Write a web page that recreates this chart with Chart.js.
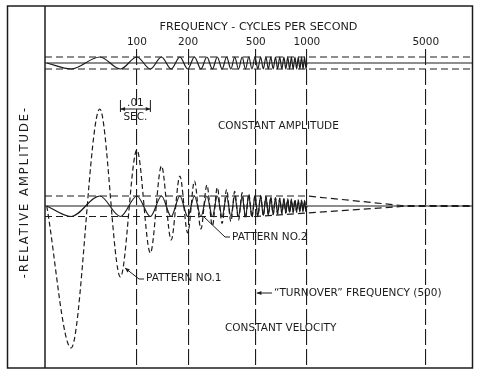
<!DOCTYPE html>
<html>
<head>
<meta charset="utf-8">
<script src="https://cdn.jsdelivr.net/npm/chart.js@4.4.1/dist/chart.umd.min.js"></script>
<style>
html, body { margin: 0; padding: 0; background: #fff; }
</style>
</head>
<body>
<canvas id="graficaPatrones" width="478" height="375"></canvas>
<script>
// frecuencias marcadas arriba
const tickFreqs = [100, 200, 500, 1000, 5000];

// frecuencias de los picos / valles del barrido (inicio, extremos, final)
const sweepFreqs = [29.5,
    41, 60.5, 80, 100, 120, 139.5, 159, 179, 199, 218,
    238, 258, 278, 297, 317, 337, 357, 376, 396, 416,
    435, 455, 475, 495, 514, 534, 554, 574, 593, 613,
    633, 653, 672, 692, 712, 732, 751, 771, 791, 810,
    830, 850, 870, 889, 909, 929, 949, 968, 988,
    998];

// amplitud de la franja superior (amplitud constante)
const topStripAmp = [0,
    -6, 6, -6, 6, -6, 6, -6, 6, -6, 6,
    -6, 6, -6, 6, -6, 6, -6, 6, -6, 6,
    -6, 6, -6, 6, -6, 6, -6, 6, -6, 6,
    -6, 6, -6, 6, -6, 6, -6, 6, -6, 6,
    -6, 6, -6, 6, -6, 6, -6, 6, -6,
    0];

// pattern no.1 (velocidad constante, linea a trazos)
const pattern1Amp = [0,
    -142, 97, -71, 56, -47, 40, -34, 30, -27, 25,
    -23, 21, -20, 18.5, -17.5, 16.5, -15.5, 14.6, -14, 13.3,
    -12.6, 12.1, -11.6, 11.1, -10.7, 10.3, -9.9, 9.6, -9.3, 9.0,
    -8.7, 8.4, -8.2, 7.9, -7.7, 7.5, -7.3, 7.1, -6.9, 6.8,
    -6.6, 6.4, -6.3, 6.2, -6.0, 5.9, -5.8, 5.7, -5.6,
    0];

// pattern no.2 (linea continua)
const pattern2Amp = [0,
    -10.5, 10, -10.5, 10, -10.5, 10, -10.5, 10, -10.5, 10,
    -10.5, 10, -10.5, 10, -10.5, 10, -10.5, 10, -10.5, 10,
    -10.5, 10, -10.5, 10, -10.2, 9.8, -9.4, 9.0, -8.7, 8.4,
    -8.1, 7.8, -7.5, 7.3, -7.0, 6.8, -6.6, 6.4, -6.2, 6.0,
    -5.9, 5.7, -5.6, 5.5, -5.4, 5.3, -5.2, 5.1, -5.0,
    0];

// lineas base y envolventes
const topBase = 143;
const midBase = 0;
const fullFreqs = [28.8, 9350];
const topEnvUpper = [6, 6];
const topEnvLower = [-6, -6];
const envUpperFreqs = [28.8, 1000, 3600, 9350];
const envUpper = [10, 10, 0.5, 0.5];
const envLowerFreqs = [28.8, 500, 1000, 3600, 9350];
const envLower = [-10.5, -10.5, -7, -0.5, -0.5];

const tinta = '#1c1c1c';
const fuente = '"DejaVu Sans", sans-serif';

function serie(freqs, vals, base) {
    return freqs.map((f, i) => ({ x: f, y: base + vals[i] }));
}

function linea(data, dash, width) {
    return {
        data: data,
        borderColor: tinta,
        borderWidth: width || 1.2,
        borderDash: dash || [],
        pointRadius: 0,
        tension: 0,
        fill: false
    };
}

function onda(data, dash) {
    const ds = linea(data, dash, 1.2);
    ds.cubicInterpolationMode = 'monotone';
    return ds;
}

function flecha(ctx, x1, y1, x2, y2) {
    const a = Math.atan2(y2 - y1, x2 - x1);
    ctx.beginPath();
    ctx.moveTo(x1, y1);
    ctx.lineTo(x2, y2);
    ctx.stroke();
    ctx.beginPath();
    ctx.moveTo(x2, y2);
    ctx.lineTo(x2 - 5 * Math.cos(a - 0.4), y2 - 5 * Math.sin(a - 0.4));
    ctx.lineTo(x2 - 5 * Math.cos(a + 0.4), y2 - 5 * Math.sin(a + 0.4));
    ctx.closePath();
    ctx.fill();
}

const marco = {
    id: 'marco',
    afterDraw(chart) {
        const ctx = chart.ctx;
        const area = chart.chartArea;
        ctx.save();
        ctx.strokeStyle = tinta;
        ctx.lineWidth = 1.5;
        ctx.strokeRect(7.5, 6, 465, area.bottom - 6);
        ctx.beginPath();
        ctx.moveTo(area.left, 6);
        ctx.lineTo(area.left, area.bottom);
        ctx.stroke();
        ctx.restore();
    }
};

const rotulos = {
    id: 'rotulos',
    afterDraw(chart) {
        const ctx = chart.ctx;
        const xs = chart.scales.x;
        ctx.save();
        ctx.fillStyle = tinta;
        ctx.strokeStyle = tinta;
        ctx.lineWidth = 1;
        ctx.font = '10.5px ' + fuente;
        ctx.textBaseline = 'middle';
        ctx.textAlign = 'left';

        ctx.fillText('CONSTANT AMPLITUDE', 218, 126);
        ctx.fillText('PATTERN NO.2', 232, 237);
        ctx.fillText('PATTERN NO.1', 146, 278);
        ctx.fillText('\u201CTURNOVER\u201D FREQUENCY (500)', 274, 293);
        ctx.fillText('CONSTANT VELOCITY', 225, 328);

        // lineas guia
        ctx.beginPath();
        ctx.moveTo(203, 216);
        ctx.lineTo(225, 237);
        ctx.lineTo(230, 237);
        ctx.stroke();
        ctx.beginPath();
        ctx.moveTo(144, 279);
        ctx.lineTo(139, 279);
        ctx.stroke();
        flecha(ctx, 139, 279, 125, 268);
        const x500 = xs.getPixelForValue(500);
        flecha(ctx, 272, 293, x500 + 1, 293);

        // cota de .01 seg
        const xa = xs.getPixelForValue(80);
        const xb = xs.getPixelForValue(120);
        ctx.beginPath();
        ctx.moveTo(xa, 100); ctx.lineTo(xa, 112);
        ctx.moveTo(xb, 100); ctx.lineTo(xb, 112);
        ctx.stroke();
        flecha(ctx, (xa + xb) / 2, 109, xa, 109);
        flecha(ctx, (xa + xb) / 2, 109, xb, 109);
        ctx.textAlign = 'center';
        ctx.fillText('.01', (xa + xb) / 2, 103);
        ctx.fillText('SEC.', (xa + xb) / 2, 117);

        // titulo vertical
        ctx.translate(25, 192);
        ctx.rotate(-Math.PI / 2);
        ctx.font = '11.5px ' + fuente;
        ctx.letterSpacing = '2px';
        ctx.fillText('-RELATIVE AMPLITUDE-', 0, 0);
        ctx.restore();
    }
};

const ctx = document.getElementById('graficaPatrones').getContext('2d');

new Chart(ctx, {
    type: 'line',
    data: {
        datasets: [
            onda(serie(sweepFreqs, pattern1Amp, midBase), [5, 3]),
            onda(serie(sweepFreqs, pattern2Amp, midBase)),
            onda(serie(sweepFreqs, topStripAmp, topBase)),
            linea(serie(fullFreqs, [0, 0], topBase)),
            linea(serie(fullFreqs, topEnvUpper, topBase), [7, 4]),
            linea(serie(fullFreqs, topEnvLower, topBase), [7, 4]),
            linea(serie(fullFreqs, [0, 0], midBase)),
            linea(serie(envUpperFreqs, envUpper, midBase), [7, 4]),
            linea(serie(envLowerFreqs, envLower, midBase), [7, 4])
        ]
    },
    options: {
        responsive: false,
        animation: false,
        layout: { padding: { left: 45, right: 6, top: 6, bottom: 7 } },
        plugins: {
            legend: { display: false },
            tooltip: { enabled: false }
        },
        scales: {
            x: {
                type: 'logarithmic',
                position: 'top',
                min: 28.8,
                max: 9350,
                afterBuildTicks: function(scale) {
                    scale.ticks = tickFreqs.map(v => ({ value: v }));
                },
                afterFit: function(scale) {
                    scale.height = 43;
                },
                ticks: {
                    autoSkip: false,
                    maxRotation: 0,
                    padding: 0,
                    color: tinta,
                    font: { family: fuente, size: 10.5 },
                    callback: function(value) { return String(value); }
                },
                grid: {
                    color: tinta,
                    lineWidth: 1.1,
                    drawTicks: false,
                    tickLength: 0
                },
                border: { display: false, dash: [16, 4] },
                title: {
                    display: true,
                    text: 'FREQUENCY - CYCLES PER SECOND',
                    color: tinta,
                    font: { family: fuente, size: 11.2 },
                    padding: { top: 14, bottom: 0 }
                }
            },
            y: {
                display: false,
                min: -162,
                max: 157
            }
        }
    },
    plugins: [marco, rotulos]
});
</script>
</body>
</html>
